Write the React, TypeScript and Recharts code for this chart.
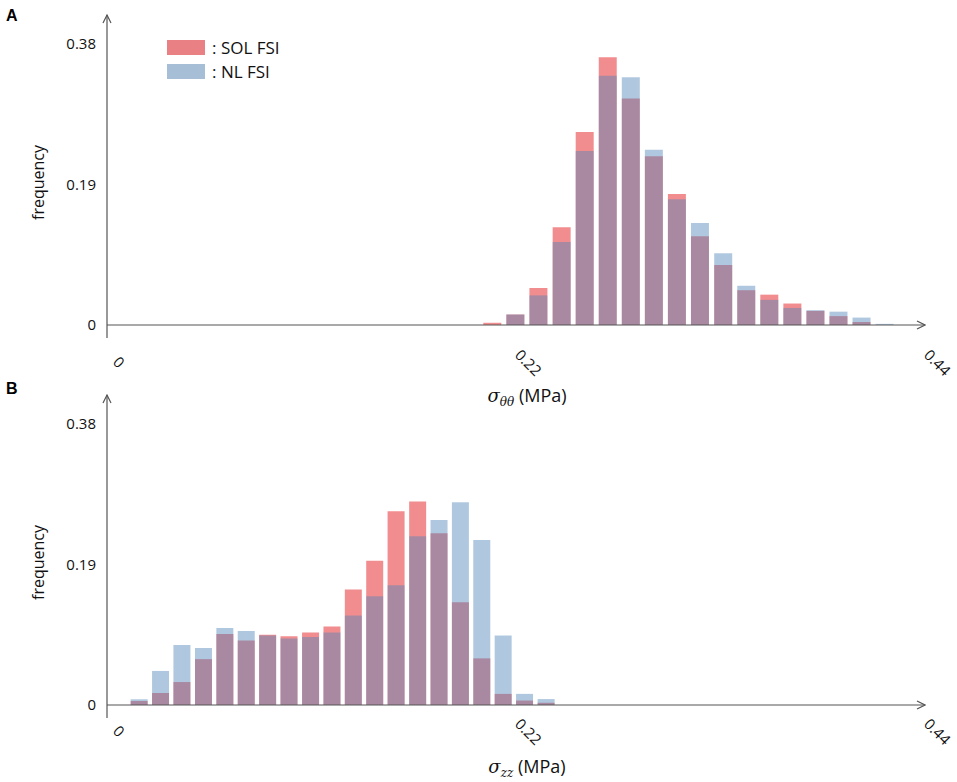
import { BarChart, Bar, XAxis, YAxis, ReferenceLine, Legend } from "recharts"

// panel A: sigma theta-theta histogram (bin centres, MPa)
const thetaBins = [0.207, 0.2194, 0.2318, 0.2443, 0.2567, 0.2691, 0.2815, 0.2939, 0.3063, 0.3187, 0.3312, 0.3436, 0.356, 0.3684, 0.3808, 0.3932, 0.4056, 0.418]
const thetaSol = [0.003, 0.014, 0.05, 0.132, 0.261, 0.362, 0.306, 0.228, 0.177, 0.12, 0.081, 0.047, 0.041, 0.029, 0.019, 0.012, 0.004, 0]
const thetaNl = [0, 0.014, 0.04, 0.112, 0.235, 0.337, 0.335, 0.237, 0.17, 0.138, 0.097, 0.053, 0.034, 0.023, 0.02, 0.018, 0.01, 0.0015]

// panel B: sigma zz histogram
const zzBins = [0.0174, 0.0289, 0.0404, 0.052, 0.0635, 0.075, 0.0865, 0.098, 0.1096, 0.1211, 0.1326, 0.1441, 0.1556, 0.1672, 0.1787, 0.1902, 0.2017, 0.2132, 0.2247, 0.2363]
const zzSol = [0.0054, 0.0162, 0.031, 0.062, 0.096, 0.087, 0.095, 0.093, 0.098, 0.106, 0.156, 0.195, 0.262, 0.275, 0.232, 0.139, 0.063, 0.015, 0.006, 0.003]
const zzNl = [0.0077, 0.046, 0.081, 0.077, 0.104, 0.1, 0.094, 0.09, 0.092, 0.098, 0.121, 0.147, 0.162, 0.228, 0.25, 0.274, 0.223, 0.094, 0.015, 0.008]

const xTicks = [0, 0.22, 0.44]
const yTicks = [0, 0.19, 0.38]
const legendOrder = ["sol", "nl"]

const thetaData = thetaBins.map((x, i) => ({ x, sol: thetaSol[i], nl: thetaNl[i] }))
const zzData = zzBins.map((x, i) => ({ x, sol: zzSol[i], nl: zzNl[i] }))

const RED = "#ec5d60"
const BLUE = "#4f85b8"
const AXIS = "#555"
const FONT = "'Open Sans', sans-serif"
const swatch: Record<string, string> = { sol: "#e88084", nl: "#a6bfd6" }

const XTick = (props: any) => {
  const { x, y, payload, lift } = props
  const tx = x + (payload.value === 0 ? 5 : -2)
  const ty = y + (payload.value === 0 ? 17 : 10) + lift
  return (
    <text x={tx} y={ty} transform={`rotate(45 ${tx} ${ty})`} fontSize={15} fontFamily={FONT} fill="#111">
      {payload.value}
    </text>
  )
}

const FreqLabel = (props: any) => {
  const { viewBox } = props
  const cy = viewBox.y + viewBox.height / 2 + 6
  return (
    <text x={38} y={cy} transform={`rotate(-90 38 ${cy})`} textAnchor="middle" dominantBaseline="central"
      fontSize={16} fontFamily={FONT} fill="#111">
      frequency
    </text>
  )
}

const StressLabel = (props: any) => {
  const { viewBox, sub, dy } = props
  const cx = viewBox.x + viewBox.width / 2 + 11
  const cy = viewBox.y + dy
  return (
    <text x={cx} y={cy} textAnchor="middle" fontSize={18} fontFamily={FONT} fill="#111">
      <tspan fontFamily="'DejaVu Serif', serif" fontStyle="italic">σ</tspan>
      <tspan fontFamily="'DejaVu Serif', serif" fontStyle="italic" fontSize={12} dy={4}>{sub}</tspan>
      <tspan dy={-4}> (MPa)</tspan>
    </text>
  )
}

const LegendBox = (props: any) => {
  const items = [...(props.payload || [])].sort(
    (a: any, b: any) => legendOrder.indexOf(a.dataKey) - legendOrder.indexOf(b.dataKey)
  )
  return (
    <div style={{ fontFamily: FONT, fontSize: 17, color: "#111" }}>
      {items.map((e: any) => (
        <div key={e.value} style={{ display: "flex", alignItems: "center", height: 24 }}>
          <span style={{ width: 38, height: 15, background: swatch[e.dataKey], display: "inline-block" }} />
          <span style={{ marginLeft: 7 }}>: {e.value}</span>
        </div>
      ))}
    </div>
  )
}

const Arrow = ({ id }: { id: string }) => (
  <defs>
    <marker id={id} viewBox="0 0 10 10" refX="9" refY="5" markerWidth="10" markerHeight="10"
      markerUnits="userSpaceOnUse" orient="auto-start-reverse">
      <path d="M1,1 L9,5 L1,9" fill="none" stroke={AXIS} strokeWidth={1.2} />
    </marker>
  </defs>
)

function Histogram({ data, id, sub, barSize, lift, titleDy, legend }: any) {
  return (
    <BarChart width={957} height={410} data={data} margin={{ top: 15, right: 32, left: 0, bottom: 12 }}
      barSize={barSize} barGap={-barSize}>
      <Arrow id={id} />
      <XAxis dataKey="x" type="number" domain={[0, 0.44]} ticks={xTicks} allowDataOverflow
        axisLine={false} tickLine={false} height={60} interval={0}
        tick={<XTick lift={lift} />}
        label={<StressLabel sub={sub} dy={titleDy} />} />
      <YAxis type="number" domain={[-0.0176, 0.419]} ticks={yTicks} allowDataOverflow width={107}
        tickLine={false} tickMargin={5} interval={0}
        tick={{ fontSize: 15, fontFamily: FONT, fill: "#111" }}
        axisLine={{ stroke: AXIS, strokeWidth: 1.2, markerStart: `url(#${id})` }}
        label={<FreqLabel />} />
      {legend && (
        <Legend layout="vertical" align="center" verticalAlign="middle" content={<LegendBox />}
          wrapperStyle={{ left: 167, top: 35, width: 150 }} />
      )}
      <Bar dataKey="sol" name="SOL FSI" fill={RED} fillOpacity={0.7} isAnimationActive={false} />
      <Bar dataKey="nl" name="NL FSI" fill={BLUE} fillOpacity={0.45} isAnimationActive={false} />
      <ReferenceLine y={0} stroke={AXIS} strokeWidth={1.2} markerEnd={`url(#${id})`} />
    </BarChart>
  )
}

const panelTag = { position: "absolute" as const, left: 6, fontFamily: "'Liberation Sans', Arial, sans-serif", fontWeight: 700, fontSize: 16, lineHeight: "16px" }

export default function App() {
  return (
    <div style={{ position: "relative", width: 957, height: 782, background: "#fff", overflow: "hidden" }}>
      <style>{"body{margin:0}"}</style>
      <div style={{ position: "absolute", left: 0, top: 0 }}>
        <Histogram data={thetaData} id="arrA" sub="θθ" barSize={18} lift={0} titleDy={64} legend />
      </div>
      <div style={{ position: "absolute", left: 0, top: 380 }}>
        <Histogram data={zzData} id="arrB" sub="zz" barSize={17} lift={-11} titleDy={55} legend={false} />
      </div>
      <div style={{ ...panelTag, top: 8 }}>A</div>
      <div style={{ ...panelTag, top: 381 }}>B</div>
    </div>
  )
}
